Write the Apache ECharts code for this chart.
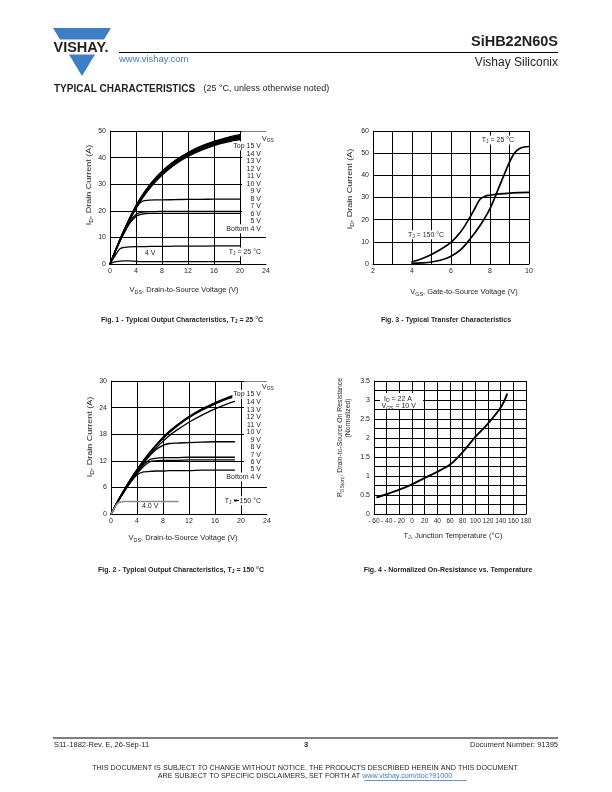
<!DOCTYPE html>
<html><head><meta charset="utf-8">
<script src="https://cdn.jsdelivr.net/npm/echarts@6/dist/echarts.min.js"></script>
<style>html,body{margin:0;padding:0;background:#fff}#c{width:612px;height:792px}</style>
</head><body><div id="c"></div>
<script>
// ---------- Fig. 1 : output characteristics, TJ = 25 °C ----------
const vds1 = [0, 0.5, 1, 1.5, 2, 3, 4, 5, 6, 7, 8, 10, 12, 14, 16, 18, 20];
const f1_15V = [0, 3.1, 6.2, 9.1, 11.9, 17.2, 22.0, 26.0, 29.5, 32.4, 34.9, 38.9, 41.9, 44.3, 46.1, 47.5, 48.6];
const f1_14V = [0, 3.1, 6.1, 9.0, 11.8, 17.0, 21.8, 25.8, 29.3, 32.2, 34.7, 38.7, 41.7, 44.1, 45.9, 47.3, 48.3];
const f1_13V = [0, 3.0, 6.0, 8.9, 11.7, 16.9, 21.6, 25.6, 29.1, 32.0, 34.5, 38.5, 41.5, 43.9, 45.7, 47.1, 48.1];
const f1_12V = [0, 3.0, 6.0, 8.9, 11.6, 16.8, 21.5, 25.4, 28.9, 31.8, 34.3, 38.3, 41.3, 43.6, 45.4, 46.8, 47.8];
const f1_11V = [0, 3.0, 5.9, 8.8, 11.5, 16.6, 21.3, 25.2, 28.6, 31.5, 34.0, 38.0, 41.0, 43.3, 45.1, 46.5, 47.5];
const f1_10V = [0, 2.9, 5.9, 8.7, 11.4, 16.5, 21.1, 25.0, 28.4, 31.2, 33.7, 37.7, 40.7, 43.0, 44.8, 46.2, 47.2];
const f1_9V  = [0, 2.9, 5.8, 8.6, 11.3, 16.3, 20.9, 24.8, 28.1, 30.9, 33.4, 37.4, 40.4, 42.7, 44.5, 45.8, 46.8];
const f1_8V  = [0, 2.9, 5.8, 8.7, 11.4, 16.5, 21.3, 23.6, 24.0, 24.1, 24.1, 24.2, 24.3, 24.3, 24.4, 24.4, 24.4];
const f1_7V  = [0, 2.9, 5.8, 8.6, 11.2, 15.9, 18.6, 19.5, 19.7, 19.7, 19.8, 19.8, 19.8, 19.8, 19.8, 19.8, 19.8];
const f1_6V  = [0, 2.8, 5.6, 8.3, 10.8, 15.2, 17.9, 18.8, 19.0, 19.0, 19.0, 19.0, 19.0, 19.0, 19.0, 19.0, 19.0];
const f1_5V  = [0, 2.0, 4.0, 5.6, 6.2, 6.4, 6.5, 6.5, 6.6, 6.6, 6.6, 6.7, 6.7, 6.7, 6.8, 6.8, 6.8];
const f1_4V  = [0, 0.6, 0.9, 1.1, 1.2, 1.2, 1.0, 0.9, 0.9, 0.9, 0.9, 0.9, 0.9, 0.9, 0.9, 0.9, 0.9];

// ---------- Fig. 2 : output characteristics, TJ = 150 °C ----------
const vds2 = [0, 1, 2, 3, 4, 5, 6, 7, 8, 9, 10, 12, 14, 16, 18, 19];
const f2_15V = [0, 2.8, 5.4, 7.8, 10.0, 12.1, 14.0, 15.7, 17.3, 18.7, 19.9, 22.0, 23.7, 25.1, 26.3, 26.9];
const f2_13V = [0, 2.8, 5.4, 7.8, 10.0, 12.0, 13.9, 15.6, 17.2, 18.6, 19.8, 21.9, 23.6, 25.0, 26.2, 26.7];
const f2_12V = [0, 2.8, 5.3, 7.7, 9.9, 11.9, 13.8, 15.5, 17.0, 18.4, 19.6, 21.7, 23.4, 24.8, 26.0, 26.5];
const f2_14V = [0, 2.7, 5.2, 7.5, 9.6, 11.6, 13.4, 15.0, 16.4, 17.7, 18.8, 20.7, 22.3, 23.7, 24.9, 25.4];
const f2_9V  = [0, 2.7, 5.2, 7.5, 9.6, 11.5, 13.2, 14.6, 15.5, 15.9, 16.0, 16.1, 16.2, 16.3, 16.3, 16.3];
const f2_8V  = [0, 2.7, 5.1, 7.4, 9.4, 11.1, 12.3, 12.6, 12.7, 12.7, 12.7, 12.8, 12.8, 12.8, 12.8, 12.8];
const f2_7V  = [0, 2.6, 5.0, 7.2, 9.1, 10.7, 11.8, 12.0, 12.1, 12.1, 12.1, 12.2, 12.2, 12.2, 12.2, 12.2];
const f2_5V  = [0, 2.6, 5.0, 7.1, 8.8, 9.5, 9.6, 9.7, 9.7, 9.8, 9.8, 9.8, 9.9, 9.9, 9.9, 9.9];
const vds2_4V = [0, 0.5, 1, 1.5, 2, 4, 6, 8, 10, 10.3];
const f2_4V   = [0, 1.3, 2.4, 2.7, 2.8, 2.8, 2.8, 2.8, 2.8, 2.8];

// ---------- Fig. 3 : transfer characteristics ----------
const vgs150 = [4, 4.5, 5, 5.5, 6, 6.5, 7, 7.25, 7.5, 7.75, 8, 8.5, 9, 9.5, 10];
const id150  = [1.0, 2.4, 4.3, 6.8, 9.8, 14.5, 21.5, 25.5, 29.3, 30.6, 31.0, 31.6, 32.0, 32.2, 32.3];
const vgs25  = [4, 4.5, 5, 5.5, 6, 6.5, 7, 7.5, 8, 8.5, 9, 9.25, 9.5, 9.75, 10];
const id25   = [0.3, 0.5, 0.9, 1.8, 3.5, 6.5, 11.5, 17.5, 25.0, 35.5, 46.0, 50.0, 52.0, 52.8, 53.0];

// ---------- Fig. 4 : normalized on-resistance ----------
const tj   = [-55, -40, -20, 0, 20, 40, 60, 80, 100, 120, 140, 150];
const rdsN = [0.44, 0.52, 0.64, 0.78, 0.95, 1.11, 1.3, 1.63, 2.03, 2.38, 2.8, 3.15];

const vgsLabels = ['Top 15 V', '14 V', '13 V', '12 V', '11 V', '10 V', '9 V', '8 V', '7 V', '6 V', '5 V', 'Bottom 4 V'];

const FF = '"Liberation Sans", Arial, Helvetica, sans-serif';
const INK = '#231f20';
const BLUE = '#3d7ec4';

function ser(xi, xs, ys, color, width) {
  return {
    type: 'line', xAxisIndex: xi, yAxisIndex: xi,
    data: xs.map((x, i) => [x, ys[i]]),
    showSymbol: false, symbol: 'none', smooth: 0.35,
    lineStyle: { color: color || '#000', width: width || 1.3, join: 'round', cap: 'round' },
    silent: true, animation: false, z: 3
  };
}
function ax(gi, min, max, interval, opt) {
  opt = opt || {};
  return {
    type: 'value', gridIndex: gi, min, max, interval,
    axisLine: { show: true, onZero: false, lineStyle: { color: '#000', width: 1 } },
    axisTick: { show: false },
    splitLine: Object.assign({ show: true, lineStyle: { color: '#000', width: 1 } }, opt.split || {}),
    axisLabel: { fontSize: opt.fs || 7, color: INK, fontFamily: FF, margin: opt.margin || 4, formatter: opt.fmt }
  };
}
// text helper with subscript support via {s|..}
function T(x, y, text, o) {
  o = o || {};
  const fs = o.fs || 7;
  const el = {
    type: 'text', x, y, z: o.z || 100, rotation: o.rot || 0,
    scaleX: o.sx || 1, scaleY: 1,
    style: {
      text, fontSize: fs, fontFamily: FF, fontWeight: o.bold ? 'bold' : 'normal',
      fill: o.color || INK, align: o.align || 'left', verticalAlign: 'middle',
      lineHeight: fs + 2,
      rich: {
        s: { fontSize: fs * 0.72, lineHeight: fs * 0.72, verticalAlign: 'bottom', fontFamily: FF, fontWeight: o.bold ? 'bold' : 'normal', fill: o.color || INK },
        l: { fontSize: fs, fontFamily: FF, fill: BLUE, lineHeight: fs + 2 }
      }
    }
  };
  if (o.bg) { el.style.backgroundColor = '#fff'; el.style.padding = [0, 1]; }
  return el;
}
function L(x1, y1, x2, y2, w, c) {
  return { type: 'line', z: 100, shape: { x1, y1, x2, y2 }, style: { stroke: c || '#000', lineWidth: w || 1 } };
}
function R(x, y, w, h) {
  return { type: 'rect', z: 90, shape: { x, y, width: w, height: h }, style: { fill: '#fff' } };
}

const chart = echarts.init(document.getElementById('c'), null, { renderer: 'canvas' });

const series = [
  ser(0, vds1, f1_15V), ser(0, vds1, f1_14V), ser(0, vds1, f1_13V), ser(0, vds1, f1_12V),
  ser(0, vds1, f1_11V), ser(0, vds1, f1_10V), ser(0, vds1, f1_9V), ser(0, vds1, f1_8V),
  ser(0, vds1, f1_7V), ser(0, vds1, f1_6V), ser(0, vds1, f1_5V), ser(0, vds1, f1_4V),
  ser(1, vgs150, id150, '#000', 1.7), ser(1, vgs25, id25, '#000', 1.7),
  ser(2, vds2, f2_15V), ser(2, vds2, f2_13V), ser(2, vds2, f2_12V), ser(2, vds2, f2_14V),
  ser(2, vds2, f2_9V), ser(2, vds2, f2_8V), ser(2, vds2, f2_7V), ser(2, vds2, f2_5V),
  ser(2, vds2_4V, f2_4V, '#8c8c8c', 1.5),
  ser(3, tj, rdsN, '#000', 1.9)
];

const g = [];
// header
g.push({ type: 'polygon', z: 80, shape: { points: [[53, 28], [111, 28], [82, 76]] }, style: { fill: BLUE } });
g.push(R(50, 39.5, 64, 15));
g.push(T(53.5, 48, 'VISHAY.', { fs: 14.5, bold: true, color: INK }));
g.push(T(119, 59, 'www.vishay.com', { fs: 9.5, color: BLUE }));
g.push(L(119, 52.5, 558, 52.5, 1));
g.push(T(558, 41.5, 'SiHB22N60S', { fs: 14.5, bold: true, align: 'right' }));
g.push(T(558, 63, 'Vishay Siliconix', { fs: 12, align: 'right' }));
g.push(T(54, 89, 'TYPICAL CHARACTERISTICS', { fs: 10, bold: true }));
g.push(T(203.5, 89, '(25 °C, unless otherwise noted)', { fs: 9 }));

// Fig 1 annotations
g.push(R(242, 131.5, 28, 103));
g.push(T(262, 139, 'V{s|GS}', {}));
vgsLabels.forEach((t, i) => g.push(T(262, i === 0 ? 145.8 : 153.7 + 7.5 * (i - 1), t, { align: 'right', bg: true })));
g.push(T(262, 252, 'T{s|J} = 25 °C', { align: 'right', bg: true }));
g.push(T(145, 252.7, '4 V', {}));
g.push(T(89, 185, 'I{s|D}, Drain Current (A)', { rot: Math.PI / 2, align: 'center', fs: 7.5, sx: 1.2 }));
g.push(T(184, 290, 'V{s|DS}, Drain-to-Source Voltage (V)', { align: 'center', fs: 7.5 }));
g.push(T(182, 320, 'Fig. 1 - Typical Output Characteristics, T{s|J} = 25 °C', { align: 'center', bold: true, fs: 7 }));

// Fig 3 annotations
g.push(T(498, 140, 'T{s|J} = 25 °C', { align: 'center', bg: true }));
g.push(T(426, 234.7, 'T{s|J} = 150 °C', { align: 'center', bg: true }));
g.push(T(350, 189, 'I{s|D}, Drain Current (A)', { rot: Math.PI / 2, align: 'center', fs: 7.5, sx: 1.2 }));
g.push(T(464, 292, 'V{s|GS}, Gate-to-Source Voltage (V)', { align: 'center', fs: 7.5 }));
g.push(T(446, 320, 'Fig. 3 - Typical Transfer Characteristics', { align: 'center', bold: true, fs: 7 }));

// Fig 2 annotations
g.push(R(244, 381.5, 28, 103));
g.push(T(262, 386.7, 'V{s|GS}', {}));
vgsLabels.forEach((t, i) => g.push(T(262, i === 0 ? 394.3 : 402.3 + 7.47 * (i - 1), t, { align: 'right', bg: true })));
g.push(T(262, 500.7, 'T{s|J} = 150 °C', { align: 'right', bg: true }));
g.push(L(234, 500.5, 239, 500.5, 1));
g.push(T(142, 506, '4.0 V', {}));
g.push(T(90, 437, 'I{s|D}, Drain Current (A)', { rot: Math.PI / 2, align: 'center', fs: 7.5, sx: 1.2 }));
g.push(T(183, 538, 'V{s|DS}, Drain-to-Source Voltage (V)', { align: 'center', fs: 7.5 }));
g.push(T(181, 570, 'Fig. 2 - Typical Output Characteristics, T{s|J} = 150 °C', { align: 'center', bold: true, fs: 7 }));

// Fig 4 annotations
g.push(R(380, 393, 43, 16));
g.push(T(384, 398.7, 'I{s|D} = 22 A', {}));
g.push(T(381.5, 406.3, 'V{s|GS} = 10 V', {}));
g.push(T(340, 437.5, 'R{s|DS(on)}, Drain-to-Source On Resistance', { rot: Math.PI / 2, align: 'center', fs: 7.2, sx: 0.95 }));
g.push(T(348, 418, '(Normalized)', { rot: Math.PI / 2, align: 'center', fs: 7.2, sx: 0.95 }));
g.push(T(453, 535.7, 'T{s|J}, Junction Temperature (°C)', { align: 'center', fs: 7.5 }));
g.push(T(448, 570, 'Fig. 4 - Normalized On-Resistance vs. Temperature', { align: 'center', bold: true, fs: 7 }));

// footer
g.push(L(53, 738, 558, 738, 1.2));
g.push(T(54, 744.5, 'S11-1882-Rev. E, 26-Sep-11', { fs: 7.5 }));
g.push(T(306, 745, '3', { fs: 7.5, bold: true, align: 'center' }));
g.push(T(558, 744.5, 'Document Number: 91395', { fs: 7.5, align: 'right' }));
g.push(T(305, 768, 'THIS DOCUMENT IS SUBJECT TO CHANGE WITHOUT NOTICE. THE PRODUCTS DESCRIBED HEREIN AND THIS DOCUMENT', { fs: 7.2, align: 'center' }));
g.push(T(305, 776, 'ARE SUBJECT TO SPECIFIC DISCLAIMERS, SET FORTH AT {l|www.vishay.com/doc?91000}', { fs: 7.2, align: 'center' }));
g.push(L(364.5, 780.5, 467, 780.5, 0.8, BLUE));

chart.setOption({
  animation: false,
  backgroundColor: '#fff',
  grid: [
    { left: 110, top: 131, width: 156, height: 133 },
    { left: 373, top: 131, width: 156, height: 133 },
    { left: 111, top: 381, width: 156, height: 133 },
    { left: 374, top: 381, width: 152, height: 133 }
  ],
  xAxis: [
    ax(0, 0, 24, 4, { split: { showMaxLine: false } }),
    ax(1, 2, 10, 1, { fmt: v => (v % 2 === 0 ? String(v) : '') }),
    ax(2, 0, 24, 4, { split: { showMaxLine: false } }),
    ax(3, -60, 180, 20, { fs: 6.5, fmt: v => (v < 0 ? '- ' + (-v) : String(v)) })
  ],
  yAxis: [
    ax(0, 0, 50, 10),
    ax(1, 0, 60, 10),
    ax(2, 0, 30, 6),
    ax(3, 0, 3.5, 0.25, { fmt: v => (Math.abs(v * 2 - Math.round(v * 2)) < 1e-9 ? String(v) : '') })
  ],
  series,
  graphic: { elements: g }
});
</script>
</body></html>
